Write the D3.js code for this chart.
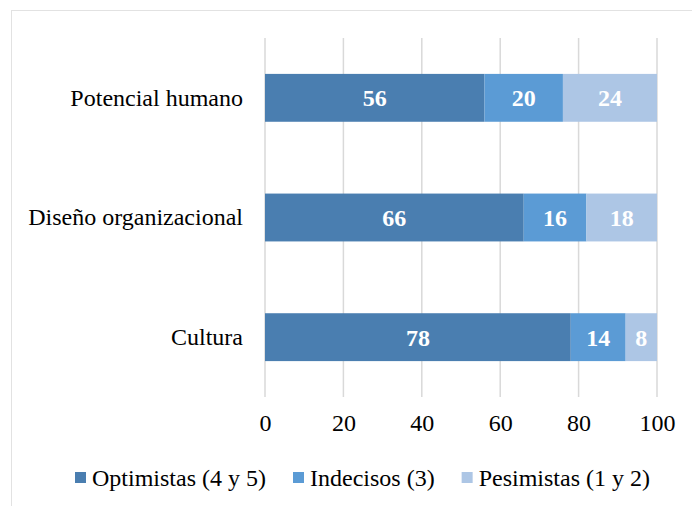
<!DOCTYPE html>
<html>
<head>
<meta charset="utf-8">
<script src="https://cdn.jsdelivr.net/npm/d3@7"></script>
<style>
  body { margin: 0; background: #fff; }
  text { font-family: "Liberation Serif", "Times New Roman", serif; }
</style>
</head>
<body>
<div id="chart"></div>
<script>
// data
var categories = ["Potencial humano", "Diseño organizacional", "Cultura"];
var seriesNames = ["Optimistas (4 y 5)", "Indecisos (3)", "Pesimistas (1 y 2)"];
var optimistas = [56, 66, 78];
var indecisos = [20, 16, 14];
var pesimistas = [24, 18, 8];
var xTicks = [0, 20, 40, 60, 80, 100];
var colors = ["#4a7eb0", "#5b9bd5", "#adc6e5"];

var W = 692, H = 506;
var margin = {top: 38, right: 35, bottom: 109, left: 265},
    width = W - margin.left - margin.right,
    height = H - margin.top - margin.bottom;

var svg = d3.select("#chart").append("svg")
    .attr("width", W)
    .attr("height", H);

// light frame of the chart area (left and top edges visible)
svg.append("rect")
    .attr("x", 11.5).attr("y", 10.5)
    .attr("width", 800).attr("height", 700)
    .attr("fill", "none")
    .attr("stroke", "#e2e2e2");

var g = svg.append("g")
    .attr("transform", "translate(" + margin.left + "," + margin.top + ")");

var x = d3.scaleLinear().domain([0, 100]).range([0, width]);
var y = d3.scaleBand().domain(categories).range([0, height])
    .paddingInner(0.6).paddingOuter(0.3);

// gridlines
g.selectAll(".grid")
    .data(xTicks)
    .enter().append("line")
    .attr("x1", d => x(d)).attr("x2", d => x(d))
    .attr("y1", 0).attr("y2", height)
    .attr("stroke", "#d9d9d9")
    .attr("stroke-width", 1.5);

// stack the series
var rows = categories.map(function(c, i) {
  return {cat: c, s0: optimistas[i], s1: indecisos[i], s2: pesimistas[i]};
});
var stack = d3.stack().keys(["s0", "s1", "s2"])(rows);

var layers = g.selectAll(".layer")
    .data(stack)
    .enter().append("g")
    .attr("fill", (d, i) => colors[i]);

layers.selectAll("rect")
    .data(d => d)
    .enter().append("rect")
    .attr("x", d => x(d[0]))
    .attr("width", d => x(d[1]) - x(d[0]))
    .attr("y", d => y(d.data.cat))
    .attr("height", y.bandwidth());

layers.selectAll(".lbl")
    .data(d => d)
    .enter().append("text")
    .attr("x", d => (x(d[0]) + x(d[1])) / 2)
    .attr("y", d => y(d.data.cat) + y.bandwidth() / 2)
    .attr("dy", "0.35em")
    .attr("text-anchor", "middle")
    .attr("fill", "#fff")
    .style("font-size", "24px")
    .style("font-weight", "bold")
    .text(d => d[1] - d[0]);

// y axis labels
g.append("g")
    .call(d3.axisLeft(y).tickSize(0).tickPadding(22))
    .call(a => a.select(".domain").remove())
    .selectAll("text")
    .style("font-family", "'Liberation Serif', 'Times New Roman', serif")
    .style("font-size", "24px")
    .attr("fill", "#000");

// x axis labels
g.append("g")
    .attr("transform", "translate(0," + height + ")")
    .call(d3.axisBottom(x).tickValues(xTicks).tickSize(0).tickPadding(17))
    .call(a => a.select(".domain").remove())
    .selectAll("text")
    .style("font-family", "'Liberation Serif', 'Times New Roman', serif")
    .style("font-size", "24px")
    .attr("fill", "#000");

// legend
var legend = svg.append("g").attr("transform", "translate(0,478)");
var lx = 75;
seriesNames.forEach(function(name, i) {
  legend.append("rect")
      .attr("x", lx).attr("y", -6)
      .attr("width", 11).attr("height", 11)
      .attr("fill", colors[i]);
  var t = legend.append("text")
      .attr("x", lx + 17)
      .attr("dy", "0.35em")
      .style("font-size", "24px")
      .attr("fill", "#000")
      .text(name);
  lx = lx + 17 + t.node().getComputedTextLength() + 27;
});
</script>
</body>
</html>
